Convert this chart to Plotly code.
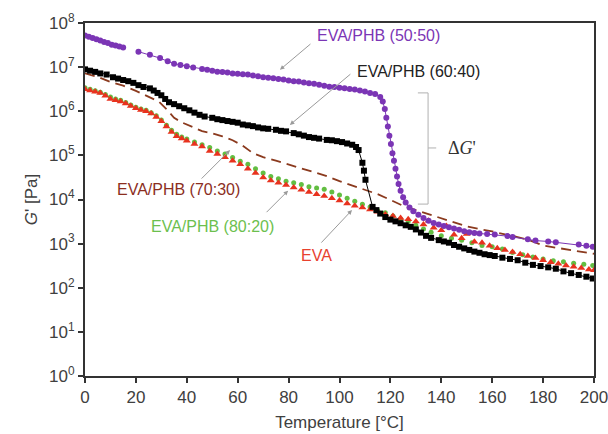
import plotly.graph_objects as go

# ---------------- data ----------------
T_5050 = [0, 1.5, 3, 4.5, 6, 7.5, 9, 10.5, 12, 13.5, 15, None,
          21, 25.5, 29.5, 32.5, 35, 37.5, 40, 42.5, 46, 48, 50, 52, 54, 56, 58, 60, 62, 64,
          66, 68, 70, 72, 74, 76, 78, 80, 82, 84, 86, 88, 90, 92, 94, 96, 98, 100, 102, 104,
          106, 108, 110, 112, 114, 116, 117, 117.8, 118.4, 119, 119.6, 120.2, 120.8, 121.4,
          122, 122.6, 123.2, 124, 125, 126, 127.5, 129, 131, 133, 135, 137, 139, 141, 143,
          145, 147, 149, 151, 153, 155, 158, 161, 166, 168, 174, 177, 182, 185, 194, 197, 199.5]
G_5050 = [5.2e7, 4.9e7, 4.6e7, 4.3e7, 4.0e7, 3.7e7, 3.5e7, 3.2e7, 3.1e7, 2.95e7, 2.8e7, None,
          2.24e7, 1.9e7, 1.6e7, 1.35e7, 1.2e7, 1.12e7, 1.05e7, 9.8e6, 9.1e6, 8.7e6, 8.3e6, 7.9e6,
          7.8e6, 7.6e6, 7.2e6, 7.1e6, 6.9e6, 6.8e6,
          6.5e6, 6.2e6, 5.9e6, 5.75e6, 5.6e6, 5.4e6, 5.25e6, 5.0e6, 4.8e6, 4.7e6, 4.5e6, 4.3e6,
          4.2e6, 4.0e6, 3.8e6, 3.6e6, 3.55e6, 3.4e6, 3.3e6, 3.2e6,
          3.1e6, 2.95e6, 2.8e6, 2.6e6, 2.45e6, 2.1e6, 1.66e6, 1.12e6, 7.1e5, 4.5e5, 2.8e5, 1.8e5,
          1.12e5, 7.6e4, 5.0e4, 3.3e4, 2.24e4, 1.58e4, 1.12e4, 8.5e3, 6.6e3, 5.4e3, 4.5e3, 3.8e3,
          3.3e3, 2.95e3, 2.7e3, 2.5e3, 2.35e3,
          2.2e3, 2.05e3, 1.9e3, 1.82e3, 1.74e3, 1.7e3, 1.66e3, 1.62e3, 1.48e3, 1.41e3, 1.26e3,
          1.17e3, 1.12e3, 1.07e3, 950, 890, 850]

T_6040 = [0, 2, 4, 6, 8.5, 11, 13, 15, 17, 19, 21, 23, 25.5, 27, 28.5, 30, 31.5, 33, 35, 37, 39,
          41, 43, 45, 47, 50, 52, 54, 56, 58, 60, 62, 64, 66, 68, 70, 72, 75, 77, 79, 82, 84, 86,
          88, 90, 92, 95, 97, 99, 101, 103, 105, 106.5, 107.5, 109, 109.6, 110.2, 113, 114.5,
          116, 118, 120, 122, 124, 126, 128, 130, 132, 134, 136, 139, 141, 143, 145, 147, 149,
          151, 153, 155, 157, 159, 161, 164, 167, 170, 173, 176, 179, 182, 185, 188, 191, 194,
          197, 199.5]
G_6040 = [8.9e6, 8.3e6, 7.8e6, 7.2e6, 6.8e6, 5.9e6, 5.5e6, 5.1e6, 4.8e6, 4.4e6, 3.9e6, 3.55e6,
          3.3e6, 2.95e6, 2.6e6, 2.3e6, 1.9e6, 1.6e6, 1.45e6, 1.3e6, 1.17e6, 1.05e6, 9.3e5, 8.3e5,
          7.6e5, 7.1e5, 6.6e5, 6.3e5, 6.0e5, 5.75e5, 5.5e5, 5.0e5, 4.8e5, 4.6e5, 4.3e5, 4.1e5,
          4.0e5, 3.8e5, 3.6e5, 3.5e5, 3.2e5, 3.0e5, 2.8e5, 2.6e5, 2.5e5, 2.4e5, 2.24e5, 2.2e5,
          2.1e5, 2.0e5, 1.86e5, 1.74e5, 1.55e5, 1.32e5, 6.8e4, 4.5e4, 2.8e4, 6.8e3, 5.75e3,
          4.8e3, 4.0e3, 3.5e3, 3.2e3, 2.9e3, 2.6e3, 2.4e3, 2.1e3, 1.78e3, 1.5e3, 1.35e3, 1.2e3,
          1.12e3, 1.05e3, 930, 850, 780, 720, 660, 620, 575, 550, 525, 480, 450, 420, 370, 330,
          310, 290, 270, 235, 214, 195, 178, 162]

T_7030 = [0, 5, 10, 15, 20, 25, 29, 32, 35, 38, 42, 46, 50, 54, 58, 62, 66, 70, 75, 80, 85, 90,
          95, 100, 105, 110, 115, 120, 125, 130, 135, 140, 145, 150, 155, 160, 165, 170, 175,
          180, 185, 190, 195, 200]
G_7030 = [7.2e6, 6.0e6, 4.6e6, 3.8e6, 2.9e6, 2.14e6, 1.66e6, 1.12e6, 7.1e5, 5.6e5, 4.4e5,
          3.55e5, 3.16e5, 2.7e5, 2.2e5, 1.66e5, 1.12e5, 9.1e4, 7.6e4, 6.2e4, 5.0e4, 4.2e4,
          3.4e4, 2.6e4, 2.1e4, 1.66e4, 1.32e4, 9.8e3, 7.2e3, 5.75e3, 4.6e3, 3.7e3, 3.0e3,
          2.45e3, 2.14e3, 1.9e3, 1.62e3, 1.41e3, 1.17e3, 910, 810, 720, 650, 590]

T_8020 = [0, 2, 4, 6, 8, 10, 12, 14, 16, 18, 20, 22, 24, 26, 28, 30, 32, 34, 36, 38, 40, 43, 46,
          49, 52, 55, 58, 61, 64, 67, 70, 73, 76, 79, 82, 85, 88, 91, 94, 97, 100, 103, 106,
          109, 112, 115, 118, 121, 124, 127, 130, 133, 136, 140, 144, 148, 152, 156, 160, 164,
          168, 172, 176, 180, 184, 188, 192, 196, 199.5]
G_8020 = [3.4e6, 3.16e6, 2.9e6, 2.7e6, 2.4e6, 2.1e6, 1.9e6, 1.78e6, 1.58e6, 1.38e6, 1.23e6,
          1.12e6, 1.05e6, 9.3e5, 7.9e5, 6.3e5, 4.8e5, 3.7e5, 3.0e5, 2.6e5, 2.34e5, 2.0e5,
          1.74e5, 1.5e5, 1.26e5, 1.07e5, 8.9e4, 7.4e4, 6.3e4, 5.0e4, 4.0e4, 3.3e4, 2.95e4,
          2.6e4, 2.4e4, 2.2e4, 1.95e4, 1.82e4, 1.7e4, 1.48e4, 1.26e4, 1.07e4, 9.1e3, 7.8e3,
          6.8e3, 5.6e3, 5.0e3, 4.2e3, 3.6e3, 3.16e3, 2.6e3, 2.14e3, 1.82e3, 1.5e3, 1.32e3,
          1.2e3, 1.05e3, 910, 850, 760, 630, 560, 500, 450, 410, 390, 360, 340, 320]

T_EVA = [0, 2, 4, 6, 8, 10, 12, 14, 16, 18, 20, 22, 24, 26, 28, 30, 32, 34, 36, 38, 40, 43, 46,
         49, 52, 55, 58, 61, 64, 67, 70, 73, 76, 79, 82, 85, 88, 91, 94, 97, 100, 103, 106,
         109, 112, 115, 118, 121, 124, 127, 130, 133, 135, 137, 140, 142, 145, 148, 150, 153,
         156, 159, 162, 165, 168, 171, 174, 177, 180, 183, 186, 189, 192, 195, 198, 200]
G_EVA = [3.16e6, 2.95e6, 2.75e6, 2.6e6, 2.24e6, 1.9e6, 1.78e6, 1.66e6, 1.5e6, 1.32e6, 1.17e6,
         1.07e6, 1.0e6, 8.9e5, 7.4e5, 5.9e5, 4.5e5, 3.4e5, 2.7e5, 2.4e5, 2.14e5, 1.82e5,
         1.58e5, 1.26e5, 1.07e5, 9.1e4, 7.6e4, 6.3e4, 5.0e4, 4.0e4, 3.16e4, 2.7e4, 2.4e4,
         2.14e4, 1.86e4, 1.66e4, 1.48e4, 1.32e4, 1.2e4, 1.07e4, 9.5e3, 8.1e3, 7.2e3, 6.6e3,
         5.9e3, 5.25e3, 4.6e3, 4.2e3, 3.8e3, 3.55e3, 3.16e3, 2.7e3, 3.3e3, 2.3e3, 2.0e3,
         2.5e3, 1.58e3, 1.32e3, 1.66e3, 1.1e3, 1.05e3, 890, 790, 720, 650, 575, 525, 470, 420,
         380, 350, 320, 300, 280, 260, 250]

y_tickvals = [1, 10, 100, 1e3, 1e4, 1e5, 1e6, 1e7, 1e8]
y_ticktext = ["10<sup>%d</sup>" % i for i in range(9)]
x_tickvals = list(range(0, 201, 20))

FONT = "Arial, 'Liberation Sans', sans-serif"
C_PURPLE = "#7B35B5"
C_BLACK = "#000000"
C_BROWN = "#8B3A1E"
C_GREEN = "#62BE42"
C_RED = "#E8321E"

fig = go.Figure()

fig.add_trace(go.Scatter(x=T_7030, y=G_7030, mode="lines", name="EVA/PHB (70:30)",
                         line=dict(color=C_BROWN, width=1.8, dash="10px,6px")))
fig.add_trace(go.Scatter(x=T_8020, y=G_8020, mode="markers", name="EVA/PHB (80:20)",
                         marker=dict(color=C_GREEN, size=5, symbol="circle")))
fig.add_trace(go.Scatter(x=T_EVA, y=G_EVA, mode="markers", name="EVA",
                         marker=dict(color=C_RED, size=7, symbol="triangle-up")))
fig.add_trace(go.Scatter(x=T_6040, y=G_6040, mode="lines+markers", name="EVA/PHB (60:40)",
                         line=dict(color=C_BLACK, width=1),
                         marker=dict(color=C_BLACK, size=6, symbol="square")))
fig.add_trace(go.Scatter(x=T_5050, y=G_5050, mode="lines+markers", name="EVA/PHB (50:50)",
                         connectgaps=False,
                         line=dict(color=C_PURPLE, width=1),
                         marker=dict(color=C_PURPLE, size=6, symbol="circle")))

# text labels (x in data, y in log10 units for log axis)
labels = [
    ("EVA/PHB (50:50)", 115.5, 7.71, C_PURPLE),
    ("EVA/PHB (60:40)", 131.2, 6.89, "#222222"),
    ("EVA/PHB (70:30)", 36.9, 4.22, "#8B2E1E"),
    ("EVA/PHB (80:20)", 49.9, 3.38, "#6CBF4E"),
    ("EVA", 90.8, 2.74, "#E8412E"),
]
for txt, x, y, c in labels:
    fig.add_annotation(x=x, y=y, xref="x", yref="y", text=txt, showarrow=False,
                       font=dict(family=FONT, size=16, color=c))

# pointer arrows: head (x, log10 y) and tail offset in pixels
arrows = [
    (76.6, 6.94, 32, -27),
    (80.5, 5.69, 62, -52),
    (57.0, 5.12, -30, 30),
    (79.8, 4.20, -23, 23),
    (104.9, 3.76, -32, 34),
]
for x, y, ax, ay in arrows:
    fig.add_annotation(x=x, y=y, xref="x", yref="y", text="", showarrow=True,
                       ax=ax, ay=ay, axref="pixel", ayref="pixel",
                       arrowhead=2, arrowsize=0.9, arrowwidth=1, arrowcolor="#9a9a9a")

# Delta G' label and bracket
fig.add_annotation(x=148.1, y=5.17, xref="x", yref="y", text="\u0394<i>G</i>'",
                   showarrow=False, font=dict(family="'Liberation Serif', 'Times New Roman', serif",
                                              size=18, color="#333333"))
bx0, bx1, bx2 = 0.654, 0.674, 0.690
by_top, by_mid, by_bot = 0.802, 0.646, 0.487
for (x0, y0, x1, y1) in [(bx0, by_top, bx1, by_top), (bx1, by_top, bx1, by_bot),
                         (bx0, by_bot, bx1, by_bot), (bx1, by_mid, bx2, by_mid)]:
    fig.add_shape(type="line", xref="paper", yref="paper", x0=x0, y0=y0, x1=x1, y1=y1,
                  line=dict(color="#b0b0b0", width=1))

fig.update_layout(
    width=608, height=434,
    margin=dict(l=85, r=14, t=23, b=58, autoexpand=False),
    paper_bgcolor="white", plot_bgcolor="white",
    showlegend=False,
    font=dict(family=FONT, size=17, color="#404040"),
    xaxis=dict(range=[0, 200], tickvals=x_tickvals, ticks="outside", ticklen=5, tickwidth=1.5,
               tickcolor="#333333", showline=True, linecolor="#333333", linewidth=2,
               mirror=True, showgrid=False, zeroline=False, ticklabeloverflow="allow",
               automargin=False,
               tickfont=dict(size=17, color="#404040"),
               title=dict(text="Temperature [°C]", font=dict(size=17, color="#404040"), standoff=10)),
    yaxis=dict(type="log", range=[0, 8], tickvals=y_tickvals, ticktext=y_ticktext,
               ticks="outside", ticklen=5, tickwidth=1.5, tickcolor="#333333",
               showline=True, linecolor="#333333", linewidth=2, mirror=True,
               showgrid=False, zeroline=False, automargin=False,
               tickfont=dict(size=17, color="#404040"),
               title=dict(text="<i>G</i>' [Pa]", font=dict(size=17, color="#404040"), standoff=7)),
)

fig.write_html("out.html")
